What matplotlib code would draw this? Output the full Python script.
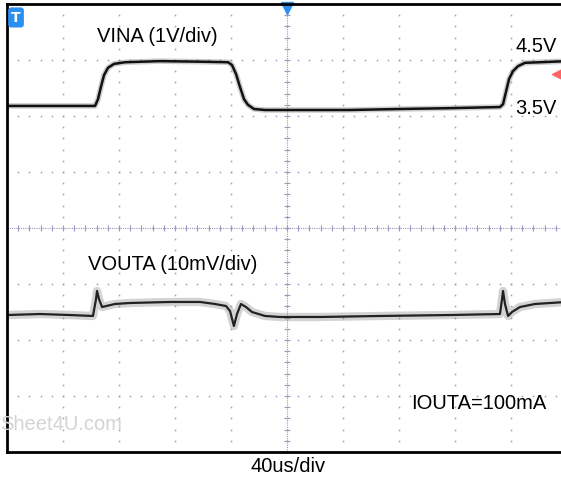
import numpy as np
import matplotlib.pyplot as plt

# time axis in us (40us/div, 10 div), traces in screen divisions (8 div tall)
vina_t = [0, 62.9, 65.0, 67.1, 69.3, 72.1, 76.4, 84.3, 109.3, 137.9, 157.9, 160.7,
          163.6, 166.4, 169.3, 172.1, 176.4, 184.3, 209.3, 245.0, 280.7, 316.4,
          352.1, 354.3, 356.4, 358.6, 361.4, 365.0, 370.0, 380.7, 400]
vina_v = [6.18, 6.18, 6.30, 6.52, 6.73, 6.86, 6.93, 6.96, 6.98, 6.97, 6.96, 6.91,
          6.75, 6.52, 6.30, 6.20, 6.125, 6.107, 6.107, 6.107, 6.125, 6.14,
          6.16, 6.21, 6.43, 6.66, 6.80, 6.89, 6.95, 6.96, 6.98]

vout_t = [0, 23.6, 45.0, 61.4, 63.6, 64.3, 65.7, 67.9, 77.1, 87.9, 116.4, 137.9,
          148.6, 156.4, 159.3, 162.1, 164.3, 167.1, 170.7, 175.0, 184.3, 195.0,
          223.6, 266.4, 316.4, 352.1, 353.6, 354.3, 355.7, 357.9, 360.7, 366.4,
          377.1, 400]
vout_v = [2.446, 2.464, 2.446, 2.429, 2.732, 2.875, 2.732, 2.589, 2.643, 2.661,
          2.679, 2.679, 2.643, 2.607, 2.518, 2.25, 2.464, 2.643, 2.589, 2.5,
          2.429, 2.411, 2.411, 2.429, 2.446, 2.464, 2.732, 2.875, 2.643, 2.429,
          2.5, 2.589, 2.643, 2.68]

grid_col = '#9a9ac4'

fig = plt.figure(figsize=(5.61, 4.85), dpi=100)
ax = fig.add_axes([7 / 561, 32 / 485, 560 / 561, 448 / 485])
ax.set_xlim(0, 400)
ax.set_ylim(0, 8)
ax.set_xticks([])
ax.set_yticks([])
for s in ax.spines.values():
    s.set_linewidth(2)
    s.set_color('black')

# dotted graticule
xs = np.arange(0, 400.01, 8)
ys = np.arange(0, 8.01, 0.2)
for gx in range(0, 401, 40):
    ax.plot([gx] * len(ys), ys, ls='none', marker='s', ms=1.1, color=grid_col, mew=0)
for gy in range(0, 9):
    ax.plot(xs, [gy] * len(xs), ls='none', marker='s', ms=1.1, color=grid_col, mew=0)

# centre cross with tick marks
ax.axvline(200, ls=(0, (1, 1)), lw=0.8, color=grid_col)
ax.axhline(4, ls=(0, (1, 1)), lw=0.8, color=grid_col)
ax.plot(xs, [4] * len(xs), ls='none', marker='|', ms=5, mew=0.8, color=grid_col)
ax.plot([200] * len(ys), ys, ls='none', marker='_', ms=5, mew=0.8, color=grid_col)

# traces
ax.plot(vina_t, vina_v, color='#707070', lw=4, alpha=0.35, solid_capstyle='butt')
ax.plot(vina_t, vina_v, color='#111111', lw=1.8)
ax.plot(vout_t, vout_v, color='#707070', lw=6, alpha=0.3, solid_capstyle='butt')
ax.plot(vout_t, vout_v, color='#222222', lw=1.6)

# markers
ax.text(3, 7.76, 'T', color='white', fontsize=10, fontweight='bold', va='center',
        ha='left', bbox=dict(boxstyle='round,pad=0.22', fc='#2a8ff0', ec='none'))
ax.plot([200], [7.93], marker='v', ms=8, color='#2a8ff0', clip_on=False)
ax.plot([393], [6.75], marker='<', ms=7, color='#ff6464', clip_on=False)

font = 'Liberation Sans'
ax.text(64.3, 7.43, 'VINA (1V/div)', fontsize=14.5, family=font, va='center')
ax.text(362.9, 7.25, '4.5V', fontsize=14.5, family=font, va='center')
ax.text(362.9, 6.16, '3.5V', fontsize=14.5, family=font, va='center')
ax.text(57.9, 3.36, 'VOUTA (10mV/div)', fontsize=14.5, family=font, va='center')
ax.text(288.6, 0.89, 'IOUTA=100mA', fontsize=14.5, family=font, va='center')
fig.text(0.001, 1 - 425 / 485, 'Sheet4U.com', fontsize=14.5, family=font,
         color='#d4d4d4', va='center')
fig.text(288 / 561, 1 - 467 / 485, '40us/div', fontsize=14.5, family=font,
         ha='center', va='center')

fig.savefig('out.png', dpi=100)
